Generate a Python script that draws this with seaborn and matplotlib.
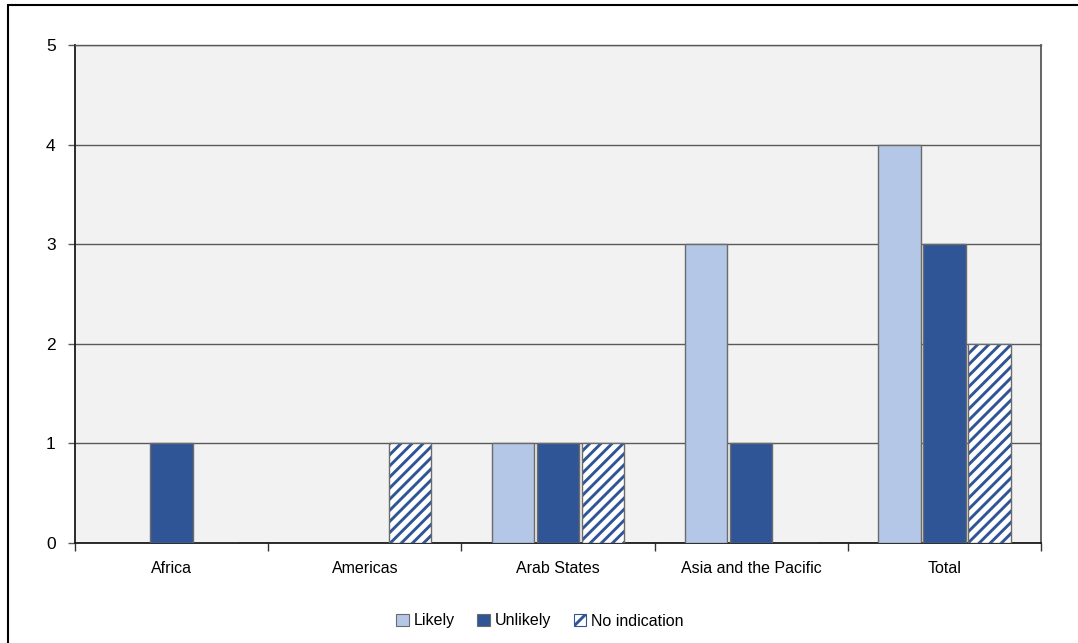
import matplotlib
matplotlib.use("Agg")
import matplotlib.pyplot as plt
from matplotlib.patches import Rectangle, Patch
import pandas as pd
import seaborn as sns

regions = ["Africa", "Americas", "Arab States", "Asia and the Pacific", "Total"]
series = ["Likely", "Unlikely", "No indication"]
likely = [0, 0, 1, 3, 4]
unlikely = [1, 0, 1, 1, 3]
no_indication = [0, 1, 1, 0, 2]
y_ticks = [0, 1, 2, 3, 4, 5]

light_blue = "#B4C7E7"
dark_blue = "#2F5597"
edge_grey = "#6B6B6B"

sns.set_style("white")
plt.rcParams["font.family"] = ["Liberation Sans", "DejaVu Sans"]
plt.rcParams["hatch.linewidth"] = 2.1
plt.rcParams["text.color"] = "black"
plt.rcParams["xtick.color"] = "black"
plt.rcParams["ytick.color"] = "black"

df = pd.DataFrame({
    "region": regions * 3,
    "series": sum([[s] * len(regions) for s in series], []),
    "value": likely + unlikely + no_indication,
})

fig = plt.figure(figsize=(10.78, 6.43), dpi=100)
ax = fig.add_axes([75 / 1078, 1 - 543 / 643, 966 / 1078, 498 / 643])
ax.set_facecolor("#F2F2F2")

sns.barplot(
    data=df, x="region", y="value", hue="series", order=regions,
    hue_order=series, palette=[light_blue, dark_blue, "white"],
    saturation=1, width=0.7, gap=0.06, edgecolor=edge_grey, linewidth=1.0,
    legend=False, ax=ax, zorder=3,
)

# Hatched series: blue stripes on white, grey outline drawn on top
n = len(regions)
for p in ax.patches[2 * n:3 * n]:
    if p.get_height() <= 0:
        continue
    p.set_facecolor("white")
    p.set_hatch("///")
    p.set_edgecolor(dark_blue)
    p.set_linewidth(0)
    ax.add_patch(Rectangle(p.get_xy(), p.get_width(), p.get_height(),
                           fill=False, edgecolor=edge_grey, linewidth=1.0,
                           zorder=4))
for p in ax.patches[:2 * n]:
    if p.get_height() <= 0:
        p.set_visible(False)

ax.set_xlim(-0.5, len(regions) - 0.5)
ax.set_ylim(0, 5)
ax.set_yticks(y_ticks)
ax.yaxis.grid(True, color="#595959", linewidth=1.0, zorder=0)
ax.set_axisbelow(True)

ax.set_xticks(range(len(regions)))
ax.set_xticklabels(regions, fontsize=11.5)
ax.tick_params(axis="x", length=0, pad=13, labelcolor="black")
ax.set_xticks([i - 0.5 for i in range(len(regions) + 1)], minor=True)
ax.tick_params(axis="x", which="minor", length=6, width=1.0, color="#333333",
               direction="out", bottom=True)
ax.tick_params(axis="y", length=5, width=1.0, color="#595959",
               direction="out", left=True, labelsize=12.5, pad=9,
               labelcolor="black")

ax.set_xlabel("")
ax.set_ylabel("")
for side in ["left", "bottom"]:
    ax.spines[side].set_color("#1a1a1a")
    ax.spines[side].set_linewidth(1.3)
ax.spines["right"].set_color("#595959")
ax.spines["right"].set_linewidth(1.3)
ax.spines["top"].set_color("#595959")
ax.spines["top"].set_linewidth(1.0)

handles = [
    Patch(facecolor=light_blue, edgecolor=edge_grey, linewidth=0.8),
    Patch(facecolor=dark_blue, edgecolor=edge_grey, linewidth=0.8),
    Patch(facecolor="white", edgecolor=dark_blue, hatch="//", linewidth=0.8),
]
fig.legend(handles, series, loc="center", bbox_to_anchor=(540 / 1078, 1 - 621 / 643),
           ncol=3, frameon=False, fontsize=11.5, handlelength=0.8,
           handleheight=0.8, handletextpad=0.3, columnspacing=1.4)

# Outer frame around the chart area
fig.add_artist(Rectangle((8 / 1078, -0.1), 1.2, 1.1 - 5 / 643,
                         transform=fig.transFigure, fill=False,
                         edgecolor="black", linewidth=1.5))

fig.savefig("out.png", dpi=100)
